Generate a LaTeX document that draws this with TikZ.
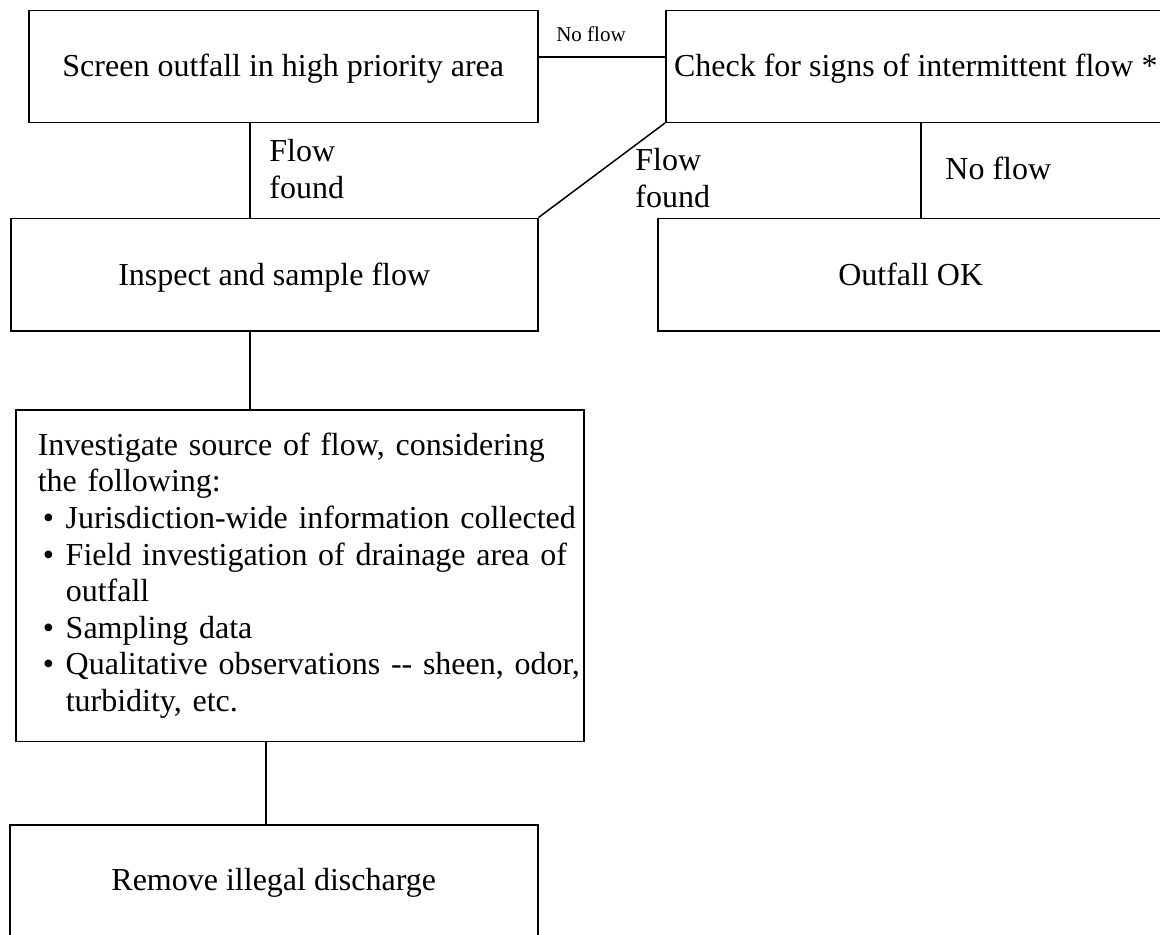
\documentclass[tikz,border=0pt]{standalone}
\usepackage{fontspec}
\setmainfont{Liberation Serif}
\newcommand\lbul{\makebox[14pt][l]{\hspace*{2.5pt}•}}
\begin{document}
\begin{tikzpicture}[x=0.5pt,y=-0.5pt,
  box/.style={draw,line width=0.75pt,rectangle,inner sep=0pt,anchor=north west,
    font=\fontsize{16pt}{18.3pt}\selectfont,text height=12pt,text depth=1.5pt},
  listbox/.style={draw,line width=0.75pt,rectangle,inner xsep=11pt,inner ysep=0pt,anchor=north west,
    font=\fontsize{16pt}{18.3pt}\selectfont,align=left,text width=262pt},
  conn/.style={line width=0.75pt},
  lbl/.style={font=\fontsize{16pt}{18.3pt}\selectfont,inner sep=0pt,align=left},
  smalllbl/.style={font=\fontsize{10.5pt}{12pt}\selectfont,inner sep=0pt}
]
\useasboundingbox (0,0) rectangle (1160,934);
\fill[white] (0,0) rectangle (1160,934);
\clip (0,0) rectangle (1160,934);

\node[box,minimum width=254.5pt,minimum height=56pt] (box1) at (28,9.5) {Screen outfall in high priority area};
\node[box,minimum width=250pt,minimum height=56pt] (box2) at (665,9.5) {Check for signs of intermittent flow *};
\node[box,minimum width=263.5pt,minimum height=56.25pt] (box3) at (10,217.5) {Inspect and sample flow};
\node[box,minimum width=253pt,minimum height=56.25pt] (box4) at (657,217.5) {Outfall OK};
\node[listbox,minimum height=165.85pt] (box5) at (15,409) {\mbox{Investigate source of flow, considering}\\
\mbox{the following:}\\
\mbox{\lbul Jurisdiction-wide information collected}\\
\mbox{\lbul Field investigation of drainage area of}\\
\mbox{\hspace*{14pt}outfall}\\
\mbox{\lbul Sampling data}\\
\mbox{\lbul Qualitative observations -{}- sheen, odor,}\\
\mbox{\hspace*{14pt}turbidity, etc.}};
\node[box,minimum width=264pt,minimum height=66pt,text height=8pt,text depth=8pt] (box6) at (9,824) {Remove illegal discharge};

\coordinate (c1) at (250,0);
\coordinate (c2) at (921,0);
\coordinate (c3) at (266,0);
\coordinate (cy) at (0,57);

\draw[conn] (box1.east |- cy) -- (box2.west |- cy);
\draw[conn] (box1.south -| c1) -- (box3.north -| c1);
\draw[conn] (box2.south west) -- (box3.north east);
\draw[conn] (box2.south -| c2) -- (box4.north -| c2);
\draw[conn] (box3.south -| c1) -- (box5.north -| c1);
\draw[conn] (box5.south -| c3) -- (box6.north -| c3);

\node[smalllbl,anchor=base] (l4) at (591,41) {No flow};
\node[lbl,anchor=north west] (l1) at (269,139) {Flow\\found};
\node[lbl,anchor=north west] (l2) at (635,148) {Flow\\found};
\node[lbl,anchor=base west] (l3) at (945,179) {No flow};
\end{tikzpicture}
\end{document}
